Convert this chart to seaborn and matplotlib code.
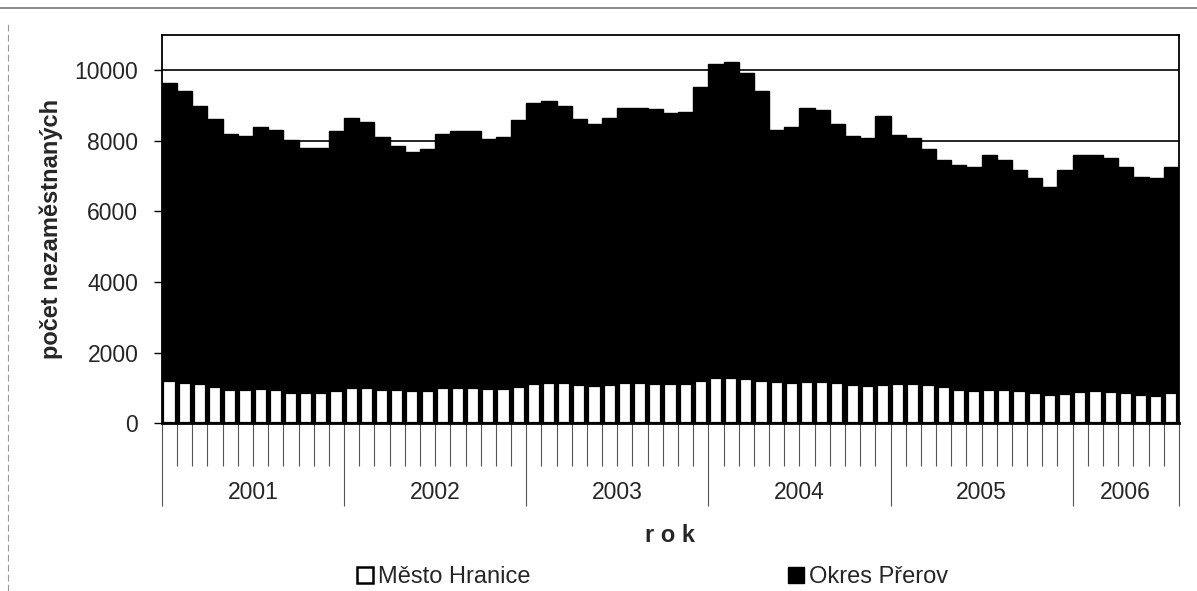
import pandas as pd
import seaborn as sns
import matplotlib.pyplot as plt
from matplotlib.patches import Patch
from matplotlib.lines import Line2D
from matplotlib.ticker import FixedLocator, NullFormatter

# monthly counts of unemployed, Jan 2001 - Jul 2006
years = ["2001", "2002", "2003", "2004", "2005", "2006"]
months_per_year = [12, 12, 12, 12, 12, 7]

okres_prerov = [
    9640, 9420, 8990, 8630, 8190, 8140, 8400, 8320, 8020, 7810, 7800, 8280,
    8660, 8540, 8110, 7850, 7690, 7780, 8190, 8280, 8280, 8050, 8100, 8600,
    9060, 9130, 8980, 8630, 8490, 8660, 8930, 8930, 8890, 8780, 8820, 9530,
    10190, 10240, 9930, 9420, 8320, 8400, 8920, 8870, 8490, 8130, 8070, 8700,
    8160, 8070, 7760, 7450, 7330, 7270, 7600, 7450, 7170, 6940, 6700, 7170,
    7610, 7610, 7520, 7270, 6980, 6960, 7270,
]
mesto_hranice = [
    1200, 1130, 1100, 1020, 940, 930, 960, 930, 870, 860, 850, 920,
    990, 990, 950, 930, 920, 920, 990, 1010, 990, 960, 960, 1040,
    1110, 1140, 1130, 1090, 1070, 1080, 1130, 1130, 1100, 1100, 1110, 1200,
    1290, 1280, 1250, 1200, 1160, 1130, 1170, 1160, 1140, 1090, 1050, 1090,
    1110, 1110, 1090, 1020, 940, 920, 950, 940, 920, 850, 800, 830,
    900, 920, 890, 850, 800, 780, 860,
]

months = []
for y, n in zip(years, months_per_year):
    for m in range(1, n + 1):
        months.append(f"{y}-{m:02d}")

df = pd.DataFrame({"mesic": months, "okres": okres_prerov, "hranice": mesto_hranice})

sns.set_style("white")
plt.rcParams["font.family"] = ["Liberation Sans", "DejaVu Sans"]

fig = plt.figure(figsize=(11.97, 5.91), dpi=100)
ax = fig.add_axes([0.1353, 0.2838, 0.8496, 0.657])

sns.barplot(data=df, x="mesic", y="okres", color="black", width=1.0,
            edgecolor="black", linewidth=1.0, saturation=1, ax=ax, zorder=2)
sns.barplot(data=df, x="mesic", y="hranice", color="white", width=0.8,
            edgecolor="black", linewidth=1.6, saturation=1, ax=ax, zorder=3)

n = len(months)
ax.set_xlim(-0.5, n - 0.5)
ax.set_ylim(0, 11000)
ax.set_yticks(range(0, 10001, 2000))
ax.yaxis.grid(True, color="black", linewidth=1.2, zorder=0)
ax.set_axisbelow(True)
for s in ax.spines.values():
    s.set_color("black")
    s.set_linewidth(1.3)
ax.spines["bottom"].set_linewidth(2)

ax.tick_params(axis="y", which="major", direction="out", length=6, width=1,
               color="black", labelsize=16.5, pad=11, left=True)

# month and year separators below the axis
bounds = [-0.5]
for cnt in months_per_year:
    bounds.append(bounds[-1] + cnt)
ax.xaxis.set_major_locator(FixedLocator(bounds))
ax.xaxis.set_major_formatter(NullFormatter())
ax.xaxis.set_minor_locator(FixedLocator([i - 0.5 for i in range(n + 1)]))
ax.tick_params(axis="x", which="major", direction="out", length=60, width=0.8,
               color="#555555", bottom=True)
ax.tick_params(axis="x", which="minor", direction="out", length=31, width=0.8,
               color="#555555", bottom=True)
ax.set_xlabel("")

trans = ax.get_xaxis_transform()
for i, y in enumerate(years):
    c = (bounds[i] + bounds[i + 1]) / 2
    ax.text(c, -0.177, y, transform=trans, ha="center", va="center", fontsize=16.5)

ax.text(0.5, -0.29, "r o k", transform=ax.transAxes, ha="center", va="center",
        fontsize=17, fontweight="bold")
ax.set_ylabel("počet nezaměstnaných", fontsize=17, fontweight="bold", labelpad=8)

handles = [Patch(facecolor="white", edgecolor="black", linewidth=1.8, label="Město Hranice"),
           Patch(facecolor="black", edgecolor="black", label="Okres Přerov")]
fig.legend(handles=handles, loc="center", bbox_to_anchor=(0.545, 0.023), ncol=2,
           frameon=False, fontsize=17, handlelength=0.7, handleheight=0.7,
           handletextpad=0.2, columnspacing=10.9)

# outer frame remnants of the scanned page
fig.add_artist(Line2D([0, 1], [0.986, 0.986], color="#777777", linewidth=1.2))
fig.add_artist(Line2D([0.007, 0.007], [0, 0.96], color="#999999", linewidth=0.8,
                      linestyle=(0, (6, 3))))

fig.savefig("out.png", dpi=100)
